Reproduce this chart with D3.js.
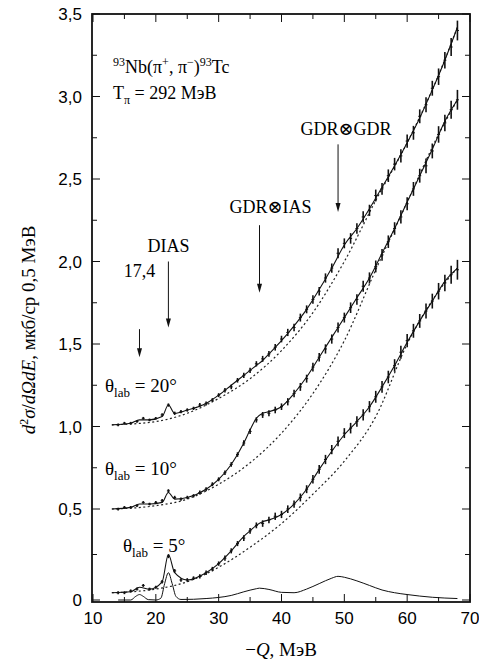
<!DOCTYPE html>
<html><head><meta charset="utf-8">
<script src="https://cdn.jsdelivr.net/npm/d3@7"></script>
<style>body{margin:0;background:#fff}</style>
</head><body><svg id="chart" width="479" height="667"></svg>
<script>
// measured points, Q = 14..68 MeV step 1
const qPoints = d3.range(14, 69);
const pts20 = [1.01,1.02,1.02,1.03,1.05,1.04,1.05,1.07,1.13,1.08,1.09,1.10,1.11,1.13,1.14,1.16,1.19,1.22,1.24,1.28,1.31,1.34,1.38,1.41,1.44,1.48,1.53,1.57,1.60,1.66,1.71,1.77,1.82,1.90,1.96,2.05,2.11,2.14,2.20,2.27,2.31,2.40,2.44,2.52,2.59,2.64,2.73,2.78,2.88,2.95,3.05,3.12,3.22,3.30,3.40];
const pts10 = [0.50,0.51,0.51,0.52,0.54,0.53,0.54,0.55,0.61,0.57,0.56,0.57,0.58,0.60,0.62,0.65,0.68,0.72,0.77,0.83,0.90,0.97,1.04,1.07,1.08,1.10,1.12,1.15,1.20,1.24,1.29,1.36,1.42,1.47,1.53,1.60,1.66,1.72,1.77,1.85,1.90,1.97,2.04,2.12,2.20,2.27,2.35,2.44,2.52,2.58,2.67,2.77,2.84,2.92,2.98];
const pts5 = [0.04,0.04,0.05,0.06,0.08,0.06,0.07,0.10,0.24,0.16,0.11,0.11,0.12,0.13,0.15,0.17,0.20,0.23,0.27,0.31,0.34,0.38,0.41,0.42,0.44,0.46,0.47,0.50,0.53,0.57,0.62,0.68,0.74,0.80,0.86,0.91,0.96,0.99,1.03,1.07,1.12,1.18,1.24,1.30,1.37,1.45,1.52,1.58,1.64,1.70,1.76,1.82,1.87,1.92,1.95];
const errs = [0.008,0.008,0.008,0.008,0.008,0.008,0.008,0.01,0.01,0.01,0.01,0.01,0.01,0.012,0.012,0.012,0.012,0.014,0.014,0.014,0.016,0.016,0.016,0.018,0.018,0.02,0.02,0.022,0.022,0.024,0.024,0.026,0.026,0.028,0.028,0.03,0.03,0.032,0.032,0.034,0.034,0.036,0.036,0.038,0.038,0.04,0.04,0.042,0.042,0.045,0.045,0.05,0.05,0.055,0.06];

// fit curves
const fitQ = [13,16,17.4,19,21,22,23,25,28,30,32,34,35,36,37,38,40,42,44,46,48,50,52,54,56,58,60,62,64,66,68];
const fit20 = [1.01,1.02,1.04,1.04,1.06,1.13,1.08,1.10,1.14,1.19,1.25,1.31,1.34,1.37,1.40,1.44,1.52,1.61,1.71,1.83,1.96,2.10,2.20,2.32,2.45,2.58,2.72,2.87,3.04,3.22,3.42];
const fit10 = [0.50,0.51,0.53,0.53,0.54,0.60,0.56,0.57,0.62,0.68,0.77,0.90,0.98,1.05,1.08,1.09,1.12,1.20,1.30,1.42,1.54,1.66,1.78,1.90,2.05,2.20,2.36,2.52,2.68,2.85,2.98];
const fit5 = [0.04,0.045,0.07,0.06,0.10,0.25,0.15,0.11,0.15,0.20,0.27,0.35,0.38,0.41,0.43,0.44,0.47,0.53,0.62,0.74,0.85,0.95,1.03,1.12,1.24,1.37,1.51,1.64,1.76,1.88,1.96];

// background (dashed)
const bgQ = [13,20,25,30,35,40,45,50,55,60,65,68];
const bg20 = [1.01,1.03,1.08,1.17,1.29,1.46,1.69,2.00,2.37,2.72,3.13,3.42];
const bg10 = [0.50,0.52,0.56,0.65,0.78,0.96,1.20,1.52,1.95,2.36,2.77,2.98];
const bg5 = [0.04,0.06,0.10,0.18,0.29,0.42,0.59,0.79,1.06,1.50,1.82,1.96];

// components for 5 degrees
const cQ = [14,16,16.8,17.4,18,18.8,20,20.8,21.4,22,22.6,23.2,24,26,28,30,32,34,36,36.5,38,40,42,44,46,48,49,50,52,54,56,58,60,64,68];
const comp = [0,0,0.02,0.03,0.02,0.002,0,0.01,0.09,0.15,0.09,0.02,0.003,0.004,0.008,0.014,0.025,0.045,0.062,0.065,0.058,0.042,0.04,0.06,0.09,0.12,0.13,0.125,0.105,0.08,0.055,0.04,0.03,0.015,0.008];

const yTicks = [0,0.5,1,1.5,2,2.5,3,3.5];
const xTicks = [10,20,30,40,50,60,70];

const serif = "'Liberation Serif','DejaVu Serif',serif";
const sans = "'Liberation Sans',Arial,'DejaVu Sans',sans-serif";

const svg = d3.select("#chart");
const x = d3.scaleLinear().domain([10,70]).range([93,470]);
const y = d3.scaleLinear().domain([0,0.5,3.5]).range([600,509,14]);
const fmt = v => v === 0 ? "0" : d3.format(".1f")(v).replace(".", ",");

const line = d3.line().x(d => x(d[0])).y(d => y(d[1])).curve(d3.curveMonotoneX);
const zip = (a, b) => a.map((v, i) => [v, b[i]]);

[[fit20,bg20,pts20],[fit10,bg10,pts10],[fit5,bg5,pts5]].forEach(([f,b,p]) => {
    svg.append("path").attr("d", line(zip(bgQ,b))).attr("fill","none")
        .attr("stroke","#222").attr("stroke-width",1.2).attr("stroke-dasharray","2,2.5");
    svg.append("path").attr("d", line(zip(fitQ,f))).attr("fill","none")
        .attr("stroke","#111").attr("stroke-width",1.1);
    const g = svg.append("g");
    qPoints.forEach((q, i) => {
        g.append("line").attr("x1",x(q)).attr("x2",x(q))
            .attr("y1",y(p[i]-errs[i])).attr("y2",y(p[i]+errs[i]))
            .attr("stroke","#111").attr("stroke-width",1.6);
        g.append("line").attr("x1",x(q)-1.5).attr("x2",x(q)+1.5)
            .attr("y1",y(p[i])).attr("y2",y(p[i])).attr("stroke","#111").attr("stroke-width",1);
    });
});
svg.append("path").attr("d", line(zip(cQ,comp))).attr("fill","none")
    .attr("stroke","#111").attr("stroke-width",1);

// frame and ticks
svg.append("rect").attr("x",92).attr("y",14).attr("width",378).attr("height",588)
    .attr("fill","none").attr("stroke","#111").attr("stroke-width",1.8);
d3.range(0, 3.51, 0.25).forEach(v => {
    const len = (v*2) % 1 === 0 ? 8 : 5;
    svg.append("line").attr("x1",92).attr("x2",92+len).attr("y1",y(v)).attr("y2",y(v)).attr("stroke","#111");
    svg.append("line").attr("x1",470).attr("x2",470-len).attr("y1",y(v)).attr("y2",y(v)).attr("stroke","#111");
});
d3.range(10, 70.1, 5).forEach(v => {
    const len = v % 10 === 0 ? 8 : 5;
    svg.append("line").attr("x1",x(v)).attr("x2",x(v)).attr("y1",602).attr("y2",602-len).attr("stroke","#111");
    svg.append("line").attr("x1",x(v)).attr("x2",x(v)).attr("y1",14).attr("y2",14+len).attr("stroke","#111");
});
yTicks.forEach(v => svg.append("text").attr("x",82).attr("y",y(v)+6).attr("font-family",sans)
    .attr("text-anchor","end").attr("font-size",17).text(fmt(v)));
xTicks.forEach(v => svg.append("text").attr("x",x(v)).attr("y",624).attr("font-family",sans)
    .attr("text-anchor","middle").attr("font-size",17).text(v));

svg.append("text").attr("x",281).attr("y",656).attr("text-anchor","middle").attr("font-size",19)
    .attr("font-family",serif).html('−<tspan font-style="italic">Q</tspan>, МэВ');
svg.append("text").attr("transform","translate(35,330) rotate(-90)").attr("text-anchor","middle")
    .attr("font-size",19).attr("font-family",serif)
    .html('<tspan font-style="italic">d</tspan><tspan dy="-7" font-size="12">2</tspan><tspan dy="7" font-style="italic">σ</tspan>/<tspan font-style="italic">d</tspan><tspan font-style="italic">ΩdE</tspan>, мкб/ср 0,5 МэВ');

// titles
svg.append("text").attr("x",113).attr("y",73).attr("font-size",18).attr("font-family",serif)
    .html('<tspan dy="-7" font-size="12">93</tspan><tspan dy="7">Nb(π</tspan><tspan dy="-7" font-size="12">+</tspan><tspan dy="7">, π</tspan><tspan dy="-7" font-size="12">−</tspan><tspan dy="7">)</tspan><tspan dy="-7" font-size="12">93</tspan><tspan dy="7">Tc</tspan>');
svg.append("text").attr("x",113).attr("y",99).attr("font-size",18).attr("font-family",serif)
    .html('T<tspan dy="5" font-size="12">π</tspan><tspan dy="-5"> = 292 МэВ</tspan>');
[["20°",105,392],["10°",105,475],["5°",123,552]].forEach(([a,px,py]) =>
    svg.append("text").attr("x",px).attr("y",py).attr("font-size",19).attr("font-family",serif)
        .html('θ<tspan dy="5" font-size="13">lab</tspan><tspan dy="-5"> = ' + a + '</tspan>'));

// arrows
const arrows = [[17.4,"17,4",1.59,1.42,277,0],[22,"DIAS",2.0,1.60,252,0],
    [36.5,"GDR⊗IAS",2.22,1.81,213,11],[49,"GDR⊗GDR",2.71,2.30,135,8]];
arrows.forEach(([q,lab,y1,y2,ty,dx]) => {
    svg.append("line").attr("x1",x(q)).attr("x2",x(q)).attr("y1",y(y1)).attr("y2",y(y2)-6)
        .attr("stroke","#111").attr("stroke-width",1);
    svg.append("path").attr("d",`M${x(q)-2.5},${y(y2)-9}L${x(q)+2.5},${y(y2)-9}L${x(q)},${y(y2)}Z`).attr("fill","#111");
    svg.append("text").attr("x", x(q)+dx).attr("y",ty).attr("font-family",serif)
        .attr("text-anchor","middle").attr("font-size",18).text(lab);
});
</script></body></html>
